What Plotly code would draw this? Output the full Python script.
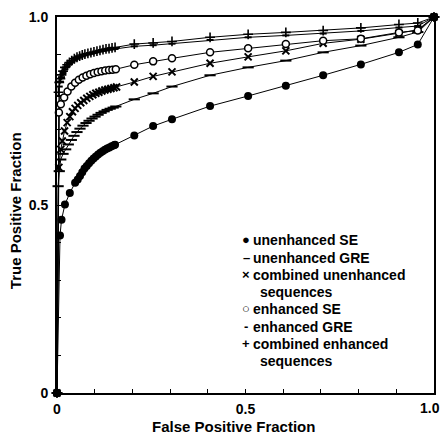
import plotly.graph_objects as go

# ---- data ----
un_se_x = [0, 0.008, 0.012, 0.021, 0.034, 0.048, 0.055, 0.061, 0.067, 0.073, 0.079, 0.085, 0.091, 0.097,
           0.103, 0.109, 0.115, 0.121, 0.127, 0.133, 0.139, 0.145, 0.151, 0.154,
           0.205, 0.255, 0.305, 0.406, 0.507, 0.607, 0.706, 0.806, 0.907, 0.957, 1.0]
un_se_y = [0, 0.419, 0.461, 0.501, 0.532, 0.559, 0.568, 0.577, 0.587, 0.597, 0.604, 0.611, 0.618, 0.624,
           0.629, 0.634, 0.639, 0.643, 0.647, 0.650, 0.653, 0.656, 0.659, 0.660,
           0.685, 0.710, 0.728, 0.763, 0.790, 0.817, 0.845, 0.874, 0.906, 0.927, 1.0]

un_gre_x = [0, 0.003, 0.006, 0.010, 0.016, 0.023, 0.030, 0.038, 0.045, 0.053, 0.061, 0.069, 0.077, 0.085,
            0.093, 0.101, 0.109, 0.117, 0.125, 0.133, 0.141, 0.149, 0.156,
            0.205, 0.255, 0.305, 0.406, 0.507, 0.607, 0.706, 0.806, 0.907, 0.957, 1.0]
un_gre_y = [0, 0.550, 0.590, 0.621, 0.636, 0.648, 0.661, 0.673, 0.684, 0.694, 0.703, 0.711, 0.718, 0.724,
            0.730, 0.735, 0.740, 0.745, 0.749, 0.753, 0.756, 0.759, 0.762,
            0.781, 0.797, 0.815, 0.845, 0.866, 0.884, 0.906, 0.924, 0.946, 0.960, 1.0]

comb_un_x = [0, 0.005, 0.010, 0.014, 0.020, 0.027, 0.034, 0.041, 0.048, 0.055, 0.063, 0.071, 0.079, 0.087,
             0.095, 0.103, 0.111, 0.119, 0.127, 0.135, 0.143, 0.151, 0.158,
             0.205, 0.255, 0.305, 0.406, 0.507, 0.607, 0.706, 0.806, 0.907, 0.957, 1.0]
comb_un_y = [0, 0.600, 0.648, 0.670, 0.697, 0.719, 0.735, 0.748, 0.757, 0.765, 0.772, 0.778, 0.784, 0.789,
             0.793, 0.797, 0.800, 0.803, 0.806, 0.808, 0.810, 0.812, 0.814,
             0.827, 0.842, 0.854, 0.877, 0.894, 0.910, 0.930, 0.941, 0.957, 0.966, 1.0]

en_se_x = [0, 0.005, 0.010, 0.019, 0.028, 0.038, 0.048, 0.058, 0.068, 0.078, 0.088, 0.098, 0.108, 0.118,
           0.128, 0.138, 0.147, 0.156, 0.205, 0.255, 0.305, 0.406, 0.507, 0.607, 0.706, 0.806, 0.907,
           0.957, 1.0]
en_se_y = [0, 0.746, 0.768, 0.786, 0.802, 0.815, 0.825, 0.833, 0.839, 0.844, 0.848, 0.851, 0.854, 0.856,
           0.858, 0.859, 0.860, 0.861, 0.873, 0.882, 0.890, 0.906, 0.917, 0.928, 0.937, 0.942, 0.959,
           0.964, 1.0]

en_gre_x = [0, 0.004, 0.006, 0.009, 0.012, 0.016, 0.021, 0.027, 0.033, 0.039, 0.046, 0.053, 0.060, 0.067,
            0.074, 0.082, 0.090, 0.098, 0.106, 0.114, 0.122, 0.130, 0.138, 0.146, 0.154,
            0.205, 0.255, 0.305, 0.406, 0.507, 0.607, 0.706, 0.806, 0.907, 0.957, 1.0]
en_gre_y = [0, 0.790, 0.815, 0.828, 0.840, 0.851, 0.861, 0.869, 0.875, 0.880, 0.885, 0.889, 0.892, 0.895,
            0.898, 0.900, 0.902, 0.904, 0.906, 0.908, 0.910, 0.911, 0.913, 0.914, 0.915,
            0.922, 0.925, 0.929, 0.939, 0.946, 0.951, 0.956, 0.963, 0.972, 0.976, 1.0]

comb_en_x = [0, 0.004, 0.006, 0.009, 0.012, 0.016, 0.021, 0.027, 0.033, 0.039, 0.046, 0.053, 0.060, 0.067,
             0.074, 0.082, 0.090, 0.098, 0.106, 0.114, 0.122, 0.130, 0.138, 0.146, 0.154,
             0.205, 0.255, 0.305, 0.406, 0.507, 0.607, 0.706, 0.806, 0.907, 0.957, 1.0]
comb_en_y = [0, 0.800, 0.826, 0.836, 0.846, 0.856, 0.866, 0.873, 0.879, 0.884, 0.889, 0.893, 0.896, 0.899,
             0.901, 0.903, 0.905, 0.907, 0.909, 0.911, 0.913, 0.915, 0.916, 0.918, 0.919,
             0.928, 0.931, 0.935, 0.946, 0.954, 0.959, 0.964, 0.971, 0.980, 0.984, 1.0]

legend_symbols = ["●", "–", "×", "", "○", "-", "+", ""]
legend_labels = ["unenhanced SE", "unenhanced GRE", "combined unenhanced", "sequences",
                 "enhanced SE", "enhanced GRE", "combined enhanced", "sequences"]

x_tick_vals = [0, 0.1, 0.2, 0.3, 0.4, 0.5, 0.6, 0.7, 0.8, 0.9, 1.0]
x_tick_text = ["0", "", "", "", "", "0.5", "", "", "", "", ""]
x_end_label = "1.0"   # drawn separately so it stays inside the window
y_tick_vals = [0, 0.1, 0.2, 0.3, 0.4, 0.5, 0.6, 0.7, 0.8, 0.9, 1.0]
y_tick_text = ["0", "", "", "", "", "0.5", "", "", "", "", "1.0"]

FONT = "Liberation Sans, Arial, sans-serif"

fig = go.Figure()

def add(xs, ys, symbol, size, lw, fill="black"):
    fig.add_trace(go.Scatter(
        x=xs, y=ys, mode="lines+markers",
        line=dict(color="black", width=1),
        marker=dict(symbol=symbol, size=size, color=fill,
                    line=dict(color="black", width=lw)),
        showlegend=False, cliponaxis=False))

add(un_gre_x, un_gre_y, "line-ew-open", 8, 2)
add(comb_un_x, comb_un_y, "x-thin-open", 7, 2)
add(en_gre_x, en_gre_y, "line-ew-open", 5, 2)
add(comb_en_x, comb_en_y, "cross-thin-open", 7, 1.6)
add(en_se_x, en_se_y, "circle", 7, 1.5, fill="white")
add(un_se_x, un_se_y, "circle", 8, 0)

# legend as text
row_y = [0.408, 0.360, 0.315, 0.269, 0.224, 0.176, 0.131, 0.085]
for sym, lab, yy in zip(legend_symbols, legend_labels, row_y):
    indent = sym == ""
    if not indent:
        fig.add_annotation(x=0.502, y=yy, xref="paper", yref="paper", text=sym,
                           showarrow=False, xanchor="center", yanchor="middle",
                           font=dict(family=FONT, size=13, color="black", weight="bold"))
    fig.add_annotation(x=0.532 if indent else 0.515, y=yy, xref="paper", yref="paper", text=lab,
                       showarrow=False, xanchor="left", yanchor="middle",
                       font=dict(family=FONT, size=14, color="black", weight="bold"))

fig.add_annotation(x=1.0175, y=-0.040, xref="paper", yref="paper", text=x_end_label,
                   showarrow=False, xanchor="right", yanchor="middle", borderpad=0,
                   font=dict(family=FONT, size=14, color="black", weight="bold"))
fig.add_annotation(x=0.468, y=-0.089, xref="paper", yref="paper", text="False Positive Fraction",
                   showarrow=False, xanchor="center", yanchor="middle",
                   font=dict(family=FONT, size=15, color="black", weight="bold"))
fig.add_annotation(x=-0.111, y=0.484, xref="paper", yref="paper", text="True Positive Fraction",
                   showarrow=False, xanchor="center", yanchor="middle", textangle=-90,
                   font=dict(family=FONT, size=15, color="black", weight="bold"))

axis_common = dict(range=[0, 1], showgrid=False, zeroline=False, showline=True, mirror=True,
                   linecolor="black", linewidth=2, ticks="inside", ticklen=4, tickwidth=1,
                   tickcolor="black", automargin=False, ticklabeloverflow="allow",
                   tickfont=dict(family=FONT, size=14, color="black", weight="bold"))
fig.update_xaxes(tickvals=x_tick_vals, ticktext=x_tick_text, ticklabelstandoff=2, **axis_common)
fig.update_yaxes(tickvals=y_tick_vals, ticktext=y_tick_text, ticklabelstandoff=4, **axis_common)

fig.update_layout(width=441, height=437, margin=dict(l=57, r=7, t=17, b=44, autoexpand=False),
                  paper_bgcolor="white", plot_bgcolor="white", showlegend=False)

fig.write_html("out.html", config={"displayModeBar": False},
               post_script="document.body.style.margin='0';document.body.style.padding='0';")
